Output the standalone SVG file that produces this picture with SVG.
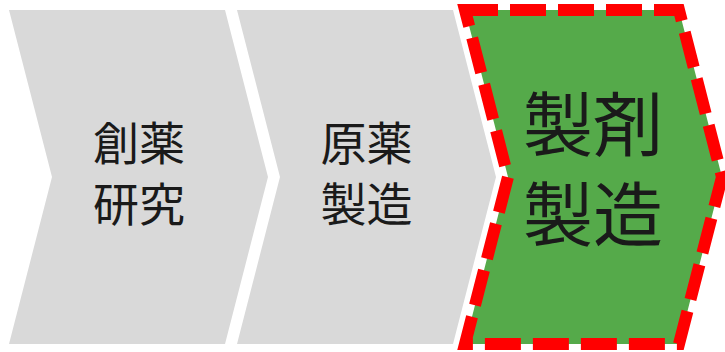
<svg xmlns="http://www.w3.org/2000/svg" width="725" height="352" viewBox="0 0 725 352">
<style>
.gray{fill:#D9D9D9;}
.green{fill:#55AA4A;}
.hl{fill:none;stroke:#FF0000;stroke-width:12;stroke-dasharray:36 12;stroke-linejoin:miter;stroke-miterlimit:10;}
.t{font-family:"Noto Sans CJK JP","Noto Sans CJK SC",sans-serif;fill:#1a1a1a;text-anchor:middle;}
.s{font-size:46px;}
.l{font-size:70px;}
</style>
<rect width="725" height="352" fill="#FFFFFF"/>
<g id="node1">
<polygon class="gray" points="9,10 225,10 268,177 225,344 9,344 52,177"/>
<text class="t s" x="139" y="160">創薬</text>
<text class="t s" x="139" y="221">研究</text>
</g>
<g id="node2">
<polygon class="gray" points="237,10 453,10 496,177 453,344 237,344 280,177"/>
<text class="t s" x="366.5" y="160">原薬</text>
<text class="t s" x="366.5" y="221">製造</text>
</g>
<g id="node3">
<polygon class="green" points="465,10 679,10 722,177 679,344 465,344 508,177"/>
<path class="hl" d="M465.75,12.9 L465,10 L679,10 L722,177 L679,344 L465,344 L508,177 Z"/>
<text class="t l" x="593" y="151">製剤</text>
<text class="t l" x="593" y="241">製造</text>
</g>
<g id="connectors"></g>
</svg>
